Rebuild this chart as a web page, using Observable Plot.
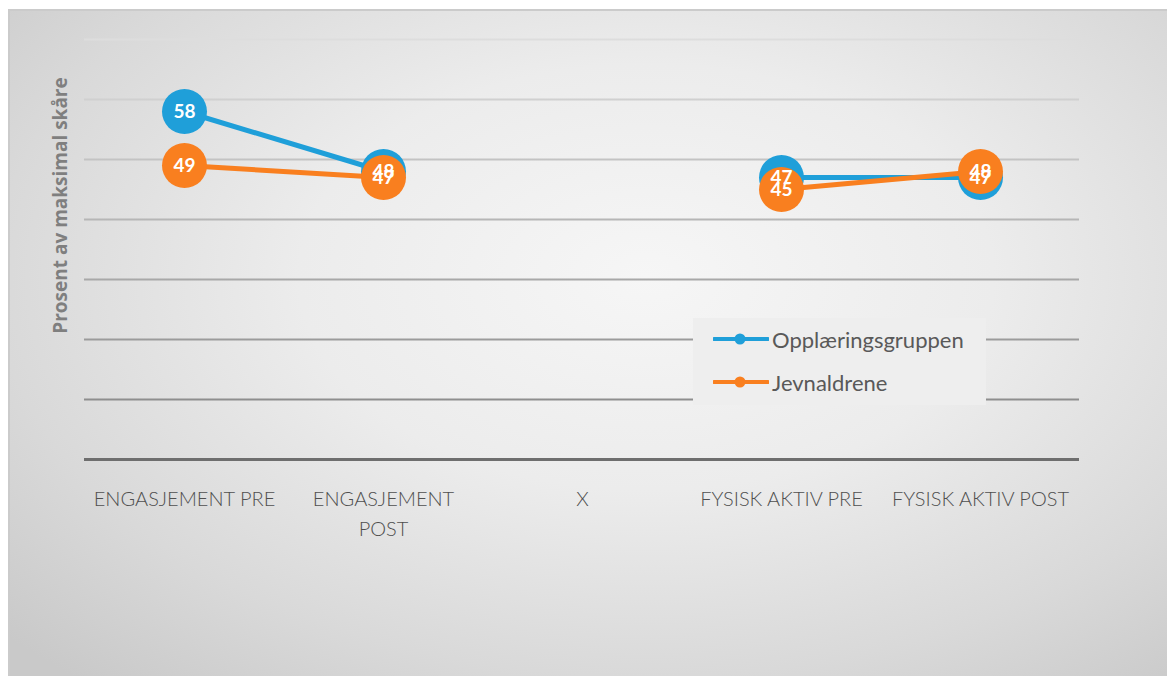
<!DOCTYPE html>
<html>
<head>
<meta charset="utf-8">
<script src="https://cdn.jsdelivr.net/npm/d3@7"></script>
<script src="https://cdn.jsdelivr.net/npm/@observablehq/plot@0.6"></script>
<style>
  html, body { margin: 0; padding: 0; background: #ffffff; }
  body { width: 1167px; height: 676px; position: relative; overflow: hidden; font-family: Lato, "Open Sans", sans-serif; }
  #bg {
    position: absolute; left: 8px; top: 9px; width: 1159px; height: 667px;
    border-top: 2px solid #cbcbcb; border-left: 2px solid #cbcbcb; box-sizing: border-box;
    background: radial-gradient(ellipse 75% 80% at 55% 40%, #f6f6f6 0%, #ececec 40%, #d9d9d9 75%, #c9c9c9 100%);
  }
  #chart { position: absolute; left: 0; top: 0; }
  #legend {
    position: absolute; left: 693px; top: 318px; width: 293px; height: 87px;
    background: #eeeeee; color: #595959; font-size: 22px;
  }
  .item { position: absolute; left: 20px; height: 30px; display: flex; align-items: center; }
  .item svg { margin-right: 3px; }
</style>
</head>
<body>
<div id="bg"></div>
<div id="chart"></div>
<div id="legend"></div>
<script>
const categories = ["ENGASJEMENT PRE", "ENGASJEMENT POST", "X", "FYSISK AKTIV PRE", "FYSISK AKTIV POST"];
const tickLabels = ["ENGASJEMENT PRE", "ENGASJEMENT\nPOST", "X", "FYSISK AKTIV PRE", "FYSISK AKTIV POST"];
const seriesNames = ["Opplæringsgruppen", "Jevnaldrene"];
const opplaering = [58, 48, null, 47, 47];
const jevnaldrene = [49, 47, null, 45, 48];
const gridValues = [10, 20, 30, 40, 50, 60, 70];
const yTitle = "Prosent av maksimal skåre";

const colors = {"Opplæringsgruppen": "#1f9fd9", "Jevnaldrene": "#f97f1f"};
const seriesValues = [opplaering, jevnaldrene];
const rows = seriesNames.flatMap((s, k) =>
  categories.map((c, i) => ({series: s, cat: c, value: seriesValues[k][i]})));
const bySeries = s => rows.filter(d => d.series === s);
const gridColor = d3.scaleLinear().domain([10, 70]).range(["#8e8e8e", "#dddddd"]);

const marks = [
  Plot.ruleY(gridValues, {stroke: d => gridColor(d), strokeWidth: 2}),
  Plot.ruleY([0], {stroke: "#6e6e6e", strokeWidth: 3}),
  Plot.axisX({tickFormat: d => tickLabels[categories.indexOf(d)], tickSize: 0, tickPadding: 25,
              fontSize: 20, fontWeight: 300, color: "#4f4f4f", lineHeight: 1.5, label: null})
];
for (const s of seriesNames) {
  marks.push(Plot.line(bySeries(s), {x: "cat", y: "value", stroke: colors[s], strokeWidth: 5}));
  marks.push(Plot.dot(bySeries(s), {x: "cat", y: "value", r: 22.5, fill: colors[s], stroke: "none"}));
}
for (const s of seriesNames) {
  marks.push(Plot.text(bySeries(s).filter(d => d.value != null),
    {x: "cat", y: "value", text: d => String(d.value), fill: "white", fontSize: 19, fontWeight: "bold"}));
}
marks.push(Plot.text([yTitle], {frameAnchor: "left", textAnchor: "middle", rotate: -90, dx: -24, dy: -44,
  fontSize: 19, fontWeight: "bold", fill: "#7f7f7f", fontFamily: "'Open Sans', sans-serif"}));

const chart = Plot.plot({
  width: 1167, height: 676,
  marginLeft: 84, marginRight: 88, marginTop: 39, marginBottom: 217,
  style: {background: "transparent", fontFamily: "Lato, sans-serif"},
  x: {type: "point", domain: categories, padding: 0.5, axis: null},
  y: {domain: [0, 70], axis: null},
  marks
});
document.getElementById("chart").appendChild(chart);

const legend = document.getElementById("legend");
seriesNames.forEach((s, i) => {
  const div = document.createElement("div");
  div.className = "item";
  div.style.top = (6 + i * 43) + "px";
  div.innerHTML = `<svg width="56" height="14"><line x1="1" x2="55" y1="7" y2="7" stroke="${colors[s]}" stroke-width="4" stroke-linecap="round"/><circle cx="27" cy="7" r="5.5" fill="${colors[s]}"/></svg><span>${s}</span>`;
  legend.appendChild(div);
});
</script>
</body>
</html>
